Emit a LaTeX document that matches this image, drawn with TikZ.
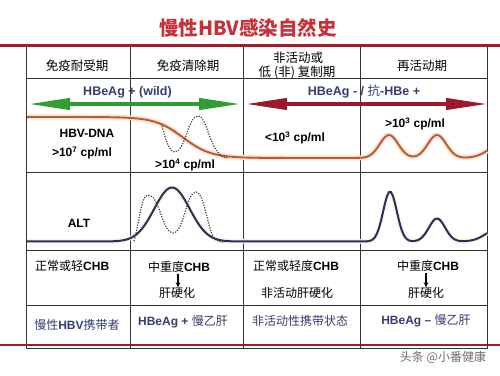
\documentclass[tikz,border=0pt]{standalone}
\usepackage{fontspec}
\setmainfont{Liberation Sans}
\newfontfamily\cjk{Noto Sans CJK SC}
\usetikzlibrary{arrows.meta}
\definecolor{titlered}{HTML}{C8303A}
\definecolor{rulered}{HTML}{A31D2A}
\definecolor{arrgreen}{HTML}{2E9E33}
\definecolor{arrred}{HTML}{9A1A2B}
\definecolor{navy}{HTML}{363C72}
\definecolor{dnacol}{HTML}{BA5A34}
\definecolor{dnahalo}{HTML}{FBE2CF}
\definecolor{altcol}{HTML}{2A2E62}
\definecolor{althalo}{HTML}{FBF4DC}
\definecolor{wmgray}{HTML}{6E6E6E}
\newcommand{\zh}[1]{{\cjk #1}}
\begin{document}
\begin{tikzpicture}[x=1pt,y=-1pt,
  gridline/.style={draw=black!80, line width=0.9pt},
  hdr/.style={font=\cjk\fontsize{12.5}{14}\selectfont, inner sep=0pt},
  eag/.style={font=\bfseries\fontsize{12.5}{14}\selectfont, text=navy, inner sep=0pt},
  val/.style={font=\bfseries\fontsize{12}{14}\selectfont, inner sep=0pt},
  clin/.style={font=\fontsize{12}{14}\selectfont, inner sep=0pt},
  stage/.style={font=\fontsize{12}{14}\selectfont, text=navy, inner sep=0pt},
  dotline/.style={draw=black!75, line width=1.2pt, dash pattern=on 1.2pt off 1.4pt},
  spanarrow/.style={line width=4pt, {Triangle[length=42pt,width=11pt]}-{Triangle[length=42pt,width=11pt]}},
  downarrow/.style={line width=1.1pt, -{Stealth[length=5pt,width=4.5pt]}},
  declare function={
    gs(\x,\c,\s)=exp(-min(((\x-\c)/\s)^2,8));
    sg(\x)=1/(1+exp(min(-(\x-183)/14,8)));
    dna(\x)=117+41*sg(\x)-23*gs(\x,389,13)-23*gs(\x,437,13)-12*gs(\x,500,18);
    alt(\x)=241.5-54*gs(\x,172,25)-50*gs(\x,390,9.6)-23*gs(\x,437,11.4)-14*gs(\x,500,18);
  }
]
\useasboundingbox (0,0) rectangle (500,375);
\fill[white] (0,0) rectangle (500,375);

% title
\node[font=\cjk\bfseries\fontsize{19.5}{22}\selectfont, text=titlered, inner sep=0pt] (title) at (248,28) {慢性HBV感染自然史};

% red rules
\draw[rulered, line width=3pt] (0,45) -- (500,45);
\draw[rulered, line width=2.5pt] (0,345) -- (500,345);

% table grid
\foreach \xx in {26,130,243,360,487} \draw[gridline] (\xx,47) -- (\xx,349);
\foreach \yy in {78,172,250,305} \draw[gridline] (26,\yy) -- (487,\yy);
\draw[gridline] (26,348.5) -- (487,348.5);

% header
\node[hdr] (h1) at (77,66) {免疫耐受期};
\node[hdr] (h2) at (188,66) {免疫清除期};
\node[hdr] (h3a) at (298,58) {非活动或};
\node[hdr] (h3b) at (297,72) {低 (非) 复制期};
\node[hdr] (h4) at (422,66) {再活动期};

% HBeAg row
\node[eag] (eagpos) at (127.5,92) {HBeAg + (wild)};
\node[eag] (eagneg) at (364,92) {HBeAg - / \zh{\mdseries 抗}-HBe +};
\coordinate (gA) at (28,104);
\coordinate (gB) at (241,104);
\coordinate (rA) at (245,104);
\coordinate (rB) at (488,104);
\draw[spanarrow, arrgreen] (gA) -- (gB);
\draw[spanarrow, arrred] (rA) -- (rB);

% HBV-DNA curve
\draw[dnahalo, line width=5pt, line join=round] plot[domain=27:487, samples=231] (\x,{dna(\x)});
\draw[dnacol, line width=1.9pt, line join=round] plot[domain=27:487, samples=231] (\x,{dna(\x)});
\draw[dotline] (162,126) .. controls (166,140) and (169,152) .. (175,152)
  .. controls (185,152) and (188,116) .. (198,116)
  .. controls (208,116) and (210,158) .. (228,158);

% HBV-DNA labels
\node[val] (dnalbl) at (87,133) {HBV-DNA};
\node[val] (v1) at (82,153) {>10\textsuperscript{7} cp/ml};
\node[val] (v2) at (185,165) {>10\textsuperscript{4} cp/ml};
\node[val] (v3) at (295,138) {<10\textsuperscript{3} cp/ml};
\node[val] (v4) at (415,124) {>10\textsuperscript{3} cp/ml};

% ALT curve
\draw[althalo, line width=4.5pt, line join=round] plot[domain=27:487, samples=231] (\x,{alt(\x)});
\draw[altcol, line width=2pt, line join=round] plot[domain=27:487, samples=231] (\x,{alt(\x)});
\draw[dotline] (134,241) .. controls (139,225) and (141,195) .. (148,195)
  .. controls (160,195) and (162,233) .. (173,233)
  .. controls (184,233) and (186,192) .. (196,192)
  .. controls (205,192) and (208,236) .. (216,240)
  .. controls (219,242) and (221,242) .. (225,242);
\node[val] (altlbl) at (79,223) {ALT};

% clinical row
\node[clin, anchor=west] (c1) at (35,266) {\zh{正常或轻}\textbf{CHB}};
\node[clin] (c2a) at (179,267) {\zh{中重度}\textbf{CHB}};
\node[clin] (c2b) at (177,293) {\zh{肝硬化}};
\node[clin] (c3a) at (296,266) {\zh{正常或轻度}\textbf{CHB}};
\node[clin] (c3b) at (297,293) {\zh{非活动肝硬化}};
\node[clin] (c4a) at (428,266) {\zh{中重度}\textbf{CHB}};
\node[clin] (c4b) at (426,293) {\zh{肝硬化}};
\draw[downarrow] ([xshift=-1pt]c2a.south) ++(0,1) -- ([xshift=-1pt]c2a.south |- c2b.north);
\draw[downarrow] ([xshift=-2pt]c4a.south) ++(0,1) -- ([xshift=-2pt]c4a.south |- c4b.north);

% stage row
\node[stage] (s1) at (77,325) {\zh{慢性}\textbf{HBV}\zh{携带者}};
\node[stage] (s2) at (183,322) {\textbf{HBeAg +} \zh{慢乙肝}};
\node[stage] (s3) at (300,321) {\zh{非活动性携带状态}};
\node[stage] (s4) at (426,321) {\textbf{HBeAg –} \zh{慢乙肝}};

% watermark
\node[font=\cjk\fontsize{12}{14}\selectfont, text=wmgray, inner sep=0pt] (wm) at (443,357) {头条 @小番健康};
\end{tikzpicture}
\end{document}
